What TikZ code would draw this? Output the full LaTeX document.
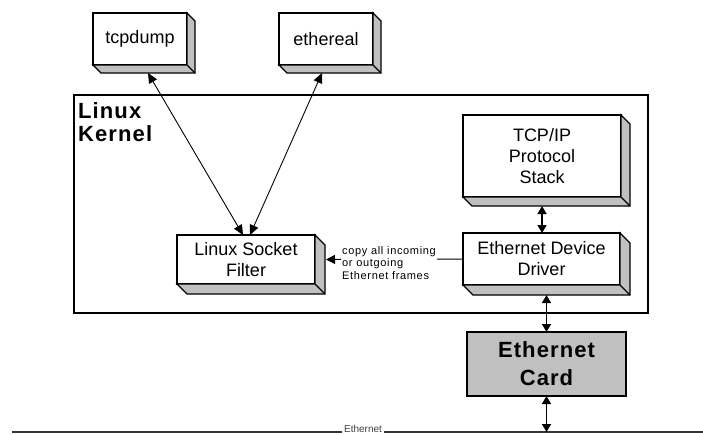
\documentclass[tikz,border=0pt]{standalone}
\usepackage{fontspec}
\setmainfont{Liberation Sans}
\usetikzlibrary{arrows.meta,calc}
\definecolor{shgray}{HTML}{C0C0C0}
\newcommand\boxshadow[2]{%
  \filldraw[sh] (#1.north east) -- ++(#2,#2) -- ($(#1.south east)+(#2,#2)$) -- ($(#1.south west)+(#2,#2)$) -- (#1.south west) -- (#1.south east) -- cycle;
  \draw[sh, fill=none] (#1.south east) -- ++(#2,#2);}
\begin{document}
\begin{tikzpicture}[x=1pt,y=-1pt,
  fb/.style={draw, line width=1.1pt, fill=white, outer sep=0pt, inner sep=0pt, align=center, font=\fontsize{18}{21}\selectfont},
  sh/.style={draw, line width=1.1pt, fill=shgray, line join=miter},
  varrow/.style={line width=1.6pt, {Triangle[width=9pt,length=8pt]}-{Triangle[width=9pt,length=8pt]}},
  darrow/.style={line width=0.9pt, {Triangle[width=9pt,length=10pt]}-{Triangle[width=9pt,length=10pt]}},
  harrow/.style={line width=1pt, -{Triangle[width=9pt,length=9pt]}},
  boldlbl/.style={font=\fontsize{22}{23}\selectfont\bfseries\addfontfeature{LetterSpace=5}, align=left, inner sep=0pt},
]
\useasboundingbox (0,0) rectangle (703,434);

% kernel frame
\node[draw, line width=1.2pt, minimum width=574pt, minimum height=218pt, outer sep=0pt, inner sep=0pt] (kernel) at (361,204) {};
\node[boldlbl, anchor=north west] (klabel) at (78,102) {Linux\\Kernel};

% boxes
\node[fb, minimum width=94pt, minimum height=52pt] (tcpdump) at (140,39) {tcpdump};
\boxshadow{tcpdump}{8}
\node[fb, minimum width=94pt, minimum height=52pt] (ethereal) at (326,39) {ethereal};
\boxshadow{ethereal}{8}
\node[fb, minimum width=158pt, minimum height=82pt] (tcp) at (542,156) {TCP/IP\\Protocol\\Stack};
\boxshadow{tcp}{9}
\node[fb, minimum width=157pt, minimum height=52pt] (drv) at (541.5,259) {Ethernet Device\\Driver};
\boxshadow{drv}{10}
\node[fb, minimum width=138pt, minimum height=49pt] (lsf) at (246,259.5) {Linux Socket\\Filter};
\boxshadow{lsf}{10}
\node[draw, line width=1.2pt, fill=shgray, outer sep=0pt, inner sep=0pt, minimum width=159pt, minimum height=64pt, align=center,
      font=\fontsize{22}{28}\selectfont\bfseries\addfontfeature{LetterSpace=5}] (card) at (546.5,364) {Ethernet\\Card};

% ethernet line
\coordinate (ethL) at (12,432);
\coordinate (ethR) at (703,432);
\node[font=\fontsize{10}{10}\selectfont, text=black!75, anchor=base, inner xsep=2pt, inner ysep=0pt] (ethlbl) at (363,432.8) {Ethernet};
\draw[line width=1.8pt, black!80] (ethL) -- (ethL -| ethlbl.west);
\draw[line width=1.8pt, black!80] (ethL -| ethlbl.east) -- (ethR);

% arrows
\draw[darrow] ($(tcpdump.south)+(8,8)$) -- ($(lsf.north)+(-3,0)$);
\draw[darrow] ($(ethereal.south)+(-4,8)$) -- ($(lsf.north)+(4,0)$);
\coordinate (tcpb) at ([yshift=-9pt]tcp.south);
\draw[varrow] (tcpb) -- (tcpb |- drv.north);
\coordinate (drvb) at ([yshift=-10pt]drv.south);
\draw[varrow] (drvb -| card.north) -- (card.north);
\draw[varrow] (card.south) -- (card.south |- ethL);
\draw[harrow] (drv.west) -- ($(lsf.east)+(11,0)$);
\node[fill=white, inner sep=1pt, align=left, font=\fontsize{11}{12.5}\selectfont\addfontfeature{LetterSpace=6}] (copy) at (389,263) {copy all incoming\\ or outgoing\\Ethernet frames};
\end{tikzpicture}
\end{document}
